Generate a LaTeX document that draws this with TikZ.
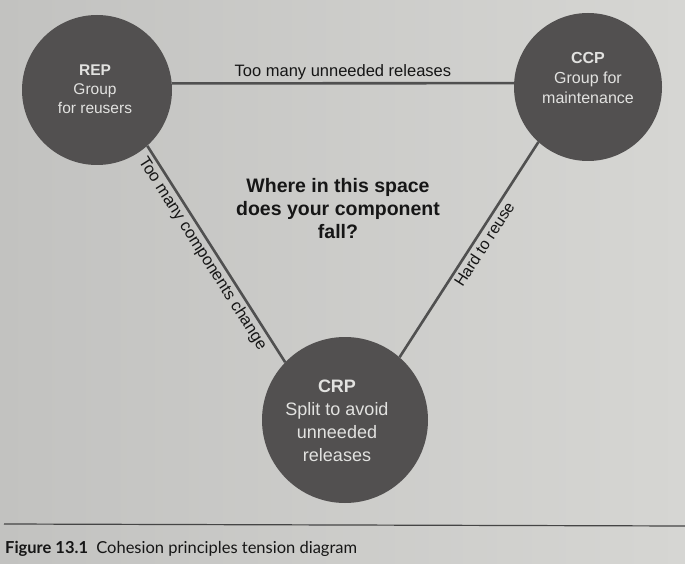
\documentclass[tikz,border=0pt]{standalone}
\usepackage{fontspec}
\setmainfont{Liberation Sans}
\newfontfamily\capfont{Lato}
\definecolor{paperL}{RGB}{214,214,211}
\definecolor{paperD}{RGB}{194,194,192}
\definecolor{disc}{RGB}{82,80,80}
\definecolor{wire}{RGB}{80,80,80}
\definecolor{disctext}{RGB}{226,226,224}
\definecolor{ink}{RGB}{22,22,22}
\tikzset{
  principle/.style={circle, fill=disc, draw=none, inner sep=0pt},
  ptext/.style={text=disctext, align=center},
  wireline/.style={draw=wire, line width=2.6pt},
  edgelabel/.style={text=ink, inner sep=2.5pt},
}
\begin{document}
\begin{tikzpicture}[x=1pt,y=-1pt]
\useasboundingbox (0,0) rectangle (685,564);
\shade[left color=paperD, right color=paperL, draw=none] (0,0) rectangle (685,564);
% discs
\node[principle, minimum size=150pt] (rep) at (97,90) {};
\node[principle, minimum size=148pt] (ccp) at (588,87) {};
\node[principle, minimum size=166pt] (crp) at (345,420) {};
% connectors
\draw[wireline] (rep.5) -- node[edgelabel, above, pos=0.5, font=\fontsize{16.5}{18}\selectfont] {Too many unneeded releases} (ccp.177);
\draw[wireline] (rep.-48) -- node[edgelabel, below, sloped, pos=0.47, font=\fontsize{16.5}{18}\selectfont] {Too many components change} (crp.136);
\draw[wireline] (crp.49) -- node[edgelabel, below, sloped, pos=0.55, font=\fontsize{16}{18}\selectfont] {Hard to reuse} (ccp.-132);
% disc texts
\node[ptext, font=\fontsize{15.5}{19}\selectfont] (rept) at (95,89) {\textbf{REP}\\Group\\for reusers};
\node[ptext, font=\fontsize{16}{20}\selectfont] (ccpt) at (588,78) {\textbf{CCP}\\Group for\\maintenance};
\node[ptext, font=\fontsize{18}{23}\selectfont] (crpt) at (337,421) {\textbf{CRP}\\Split to avoid\\unneeded\\releases};
% question
\node[text=ink, font=\bfseries\fontsize{19.5}{23}\selectfont, align=center] (q) at (338,209) {Where in this space\\does your component\\fall?};
% caption
\coordinate (rl) at (4,524);
\coordinate (rr) at (685,526);
\draw[draw=ink!80, line width=1.2pt] (rl) -- (rr);
\node[anchor=west, text=ink, font=\capfont\fontsize{16.5}{20}\selectfont, inner sep=0pt] (cap) at (5,549) {\textbf{Figure 13.1}\hspace{0.5em}Cohesion principles tension diagram};
\end{tikzpicture}
\end{document}
